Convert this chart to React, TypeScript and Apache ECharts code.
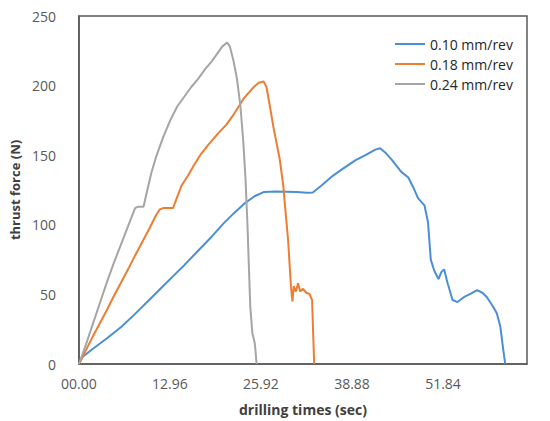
import React, { useEffect, useRef } from "react";
import * as echarts from "echarts";

const seriesNames = ["0.10 mm/rev", "0.18 mm/rev", "0.24 mm/rev"];
const seriesColors = ["#4A8FD6", "#ED7D31", "#A5A5A5"];

const xTickInterval = 12.96;
const xMax = 63.8;
const yTicks = [0, 50, 100, 150, 200, 250];

// [time (sec), thrust force (N)]
const blueData: [number, number][] = [
  [0, 0], [0.5, 5], [2, 11], [4, 18.5], [6.1, 27], [8, 36], [10, 46], [12, 56],
  [13.6, 64], [15, 71], [17, 81.5], [19, 92], [20.6, 101], [22, 108], [23.5, 115],
  [25, 120.5], [26.3, 123.5], [28, 124], [29.5, 123.8], [31, 123.5], [32.5, 123],
  [33.3, 123.2], [34.5, 128], [36.1, 135], [37.5, 140], [39.4, 146.5], [40.8, 150],
  [42.2, 154], [42.9, 155], [43.6, 152], [44.5, 147], [45.9, 138], [46.9, 134],
  [47.6, 127], [48.3, 119], [49.2, 114], [49.7, 102], [50.1, 75], [50.6, 67],
  [51.2, 61], [51.6, 66], [52.0, 68], [52.5, 58], [53.2, 46], [53.9, 44.5],
  [54.8, 48], [55.8, 50.5], [56.7, 53], [57.5, 51], [58.1, 48], [59, 41],
  [59.5, 36.5], [60.0, 27], [60.4, 11], [60.7, 0],
];

const orangeData: [number, number][] = [
  [0, 0], [1, 10], [2, 20], [3, 29.5], [4, 39], [5, 49], [6, 58.5], [7, 68],
  [8, 78], [9, 87.5], [10, 97], [11, 107], [11.5, 111], [12, 112], [13.4, 112],
  [14, 120], [14.6, 128], [15.5, 135], [16.4, 143], [17.4, 151], [18.5, 158],
  [19.7, 165], [21, 172], [22, 179], [23, 187], [23.5, 191], [24.2, 195],
  [24.9, 199], [25.6, 202], [26.3, 203], [26.7, 199], [27.2, 185], [27.7, 170],
  [28.6, 147], [29.1, 128], [29.5, 105], [29.8, 88], [30.2, 55], [30.4, 45],
  [30.6, 56], [30.9, 52], [31.2, 58], [31.5, 52], [31.9, 54], [32.4, 51],
  [32.8, 50.5], [33.2, 46], [33.3, 30], [33.5, 0],
];

const grayData: [number, number][] = [
  [0, 0], [1, 14], [2, 29], [3, 44], [4, 59], [5, 73], [6, 86], [7, 99],
  [8, 112], [8.4, 113], [9.2, 113], [9.6, 122], [10.3, 137], [11, 149],
  [12, 163], [13, 175], [14, 185], [15, 192], [16, 199], [17, 205], [18, 212],
  [19, 218], [19.7, 223], [20.4, 228], [21.1, 231], [21.5, 228], [22, 218],
  [22.5, 205], [23, 185], [23.4, 160], [23.7, 135], [24, 100], [24.2, 70],
  [24.4, 41], [24.7, 22], [24.9, 18], [25.0, 16], [25.1, 12], [25.3, 0],
];

const allData = [blueData, orangeData, grayData];

const FONT = "'Open Sans', 'Liberation Sans', sans-serif";

export default function App() {
  const ref = useRef<HTMLDivElement>(null);
  useEffect(() => {
    if (!ref.current) return;
    const chart = echarts.init(ref.current, null, { renderer: "svg" });
    chart.setOption({
      animation: false,
      backgroundColor: "#ffffff",
      textStyle: { fontFamily: FONT },
      grid: {
        left: 73,
        right: 23,
        top: 16,
        bottom: 49,
        show: true,
        borderColor: "#595959",
        borderWidth: 1.5,
        backgroundColor: "transparent",
      },
      legend: {
        orient: "vertical",
        left: 395,
        top: 36,
        padding: 0,
        icon: "rect",
        itemWidth: 30,
        itemHeight: 2,
        itemGap: 4,
        data: seriesNames,
        textStyle: { fontFamily: FONT, fontSize: 14, color: "#262626", lineHeight: 16 },
      },
      xAxis: {
        type: "value",
        min: 0,
        max: xMax,
        interval: xTickInterval,
        name: "drilling times (sec)",
        nameLocation: "middle",
        nameGap: 38,
        nameTextStyle: { fontFamily: FONT, fontSize: 14, fontWeight: "bold", color: "#404040" },
        axisLine: { show: true, lineStyle: { color: "#595959", width: 1.5 } },
        axisTick: { show: false },
        splitLine: { show: false },
        axisLabel: {
          showMaxLabel: false,
          margin: 12,
          fontFamily: FONT,
          fontSize: 14,
          color: "#595959",
          formatter: (v: number) => v.toFixed(2).padStart(5, "0"),
        },
      },
      yAxis: {
        type: "value",
        min: yTicks[0],
        max: yTicks[yTicks.length - 1],
        interval: 50,
        name: "thrust force (N)",
        nameLocation: "middle",
        nameGap: 56,
        nameTextStyle: { fontFamily: FONT, fontSize: 13, fontWeight: "bold", color: "#404040" },
        axisLine: { show: true, lineStyle: { color: "#595959", width: 1.5 } },
        axisTick: { show: false },
        splitLine: { show: false },
        axisLabel: { margin: 23, fontFamily: FONT, fontSize: 14, color: "#595959" },
      },
      series: seriesNames.map((name, i) => ({
        name,
        type: "line",
        data: allData[i],
        showSymbol: false,
        symbol: "none",
        color: seriesColors[i],
        lineStyle: { color: seriesColors[i], width: 2 },
      })),
    });
    return () => chart.dispose();
  }, []);
  return (
    <div
      ref={ref}
      style={{ position: "fixed", left: 0, top: 0, width: 550, height: 421, background: "#fff" }}
    />
  );
}
